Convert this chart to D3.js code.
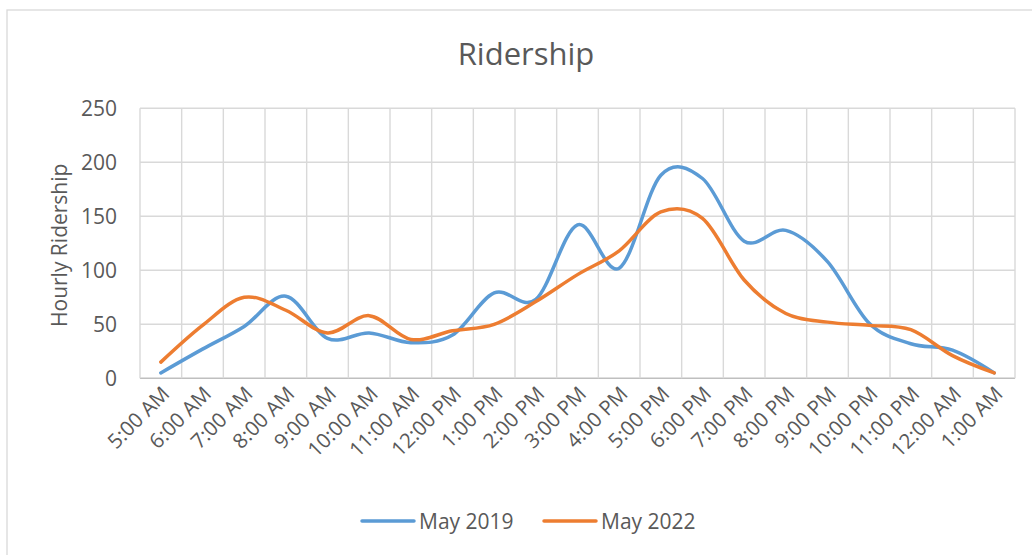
<!DOCTYPE html>
<html>
<head>
<meta charset="utf-8">
<script src="https://cdn.jsdelivr.net/npm/d3@7"></script>
<style>
  html, body { margin: 0; padding: 0; background: #fff; }
  svg { display: block; }
</style>
</head>
<body>
<script>
// chart data
const hours = ["5:00 AM", "6:00 AM", "7:00 AM", "8:00 AM", "9:00 AM", "10:00 AM", "11:00 AM",
  "12:00 PM", "1:00 PM", "2:00 PM", "3:00 PM", "4:00 PM", "5:00 PM", "6:00 PM", "7:00 PM",
  "8:00 PM", "9:00 PM", "10:00 PM", "11:00 PM", "12:00 AM", "1:00 AM"];
const may2019 = [5, 27, 48, 76, 37, 42, 33, 40, 79, 73, 142, 102, 188, 185, 127, 137, 108, 51, 32, 26, 5];
const may2022 = [15, 49, 75, 63, 42, 58, 36, 44, 50, 71, 96, 118, 154, 148, 91, 60, 52, 49, 45, 21, 5];
const yTicks = [0, 50, 100, 150, 200, 250];
const seriesNames = ["May 2019", "May 2022"];
const colors = ["#5b9bd5", "#ed7d31"];

const width = 1032;
const height = 555;
const marginLeft = 140;
const marginRight = 17;
const plotTop = 108.3;
const plotBottom = 378.3;
const font = "'Open Sans', sans-serif";
const textColor = "#595959";

const x = d3.scaleBand()
  .domain(hours)
  .range([marginLeft, width - marginRight])
  .paddingInner(0)
  .paddingOuter(0);

const y = d3.scaleLinear()
  .domain([0, 250])
  .range([plotBottom, plotTop]);

const svg = d3.select("body").append("svg")
  .attr("width", width)
  .attr("height", height)
  .attr("viewBox", [0, 0, width, height])
  .style("font-family", font);

// chart area border
svg.append("rect")
  .attr("x", 7).attr("y", 10)
  .attr("width", width).attr("height", height)
  .attr("fill", "none")
  .attr("stroke", "#d9d9d9")
  .attr("stroke-width", 1.3);

// title
svg.append("text")
  .attr("x", 526).attr("y", 65)
  .attr("text-anchor", "middle")
  .attr("fill", textColor)
  .style("font-size", "31px")
  .text("Ridership");

// horizontal gridlines
svg.append("g")
  .selectAll("line")
  .data(yTicks)
  .join("line")
  .attr("x1", marginLeft).attr("x2", width - marginRight)
  .attr("y1", d => y(d)).attr("y2", d => y(d))
  .attr("stroke", d => d === 0 ? "#bfbfbf" : "#d9d9d9")
  .attr("stroke-width", 1.4);

// vertical gridlines at category boundaries
const bounds = hours.map(h => x(h)).concat([x(hours[hours.length - 1]) + x.bandwidth()]);
svg.append("g")
  .selectAll("line")
  .data(bounds)
  .join("line")
  .attr("x1", d => d).attr("x2", d => d)
  .attr("y1", plotTop).attr("y2", plotBottom)
  .attr("stroke", "#d9d9d9")
  .attr("stroke-width", 1.4);

// y tick labels
svg.append("g")
  .attr("fill", textColor)
  .attr("text-anchor", "end")
  .style("font-size", "21px")
  .selectAll("text")
  .data(yTicks)
  .join("text")
  .attr("x", 117)
  .attr("y", d => y(d))
  .attr("dy", "0.36em")
  .text(d => d);

// y axis title
svg.append("text")
  .attr("transform", `translate(67,${(plotTop + plotBottom) / 2 + 2}) rotate(-90)`)
  .attr("text-anchor", "middle")
  .attr("fill", textColor)
  .style("font-size", "21px")
  .text("Hourly Ridership");

// x tick labels, rotated
svg.append("g")
  .attr("fill", textColor)
  .attr("text-anchor", "end")
  .style("font-size", "20.5px")
  .selectAll("text")
  .data(hours)
  .join("text")
  .attr("transform", d => `translate(${x(d) + x.bandwidth() / 2 + 10},${plotBottom + 17}) rotate(-45)`)
  .text(d => d);

// lines
const line = d3.line()
  .x((d, i) => x(hours[i]) + x.bandwidth() / 2)
  .y(d => y(d))
  .curve(d3.curveCardinal.tension(0));

[may2019, may2022].forEach((values, k) => {
  svg.append("path")
    .datum(values)
    .attr("fill", "none")
    .attr("stroke", colors[k])
    .attr("stroke-width", 3.5)
    .attr("stroke-linecap", "round")
    .attr("stroke-linejoin", "round")
    .attr("d", line);
});

// legend
const legendX = [362, 544];
const legend = svg.append("g")
  .selectAll("g")
  .data(seriesNames)
  .join("g")
  .attr("transform", (d, i) => `translate(${legendX[i]},521)`);

legend.append("line")
  .attr("x1", 0).attr("x2", 52)
  .attr("stroke", (d, i) => colors[i])
  .attr("stroke-width", 3.5)
  .attr("stroke-linecap", "round");

legend.append("text")
  .attr("x", 57)
  .attr("dy", "0.36em")
  .attr("fill", textColor)
  .style("font-size", "21px")
  .text(d => d);
</script>
</body>
</html>
